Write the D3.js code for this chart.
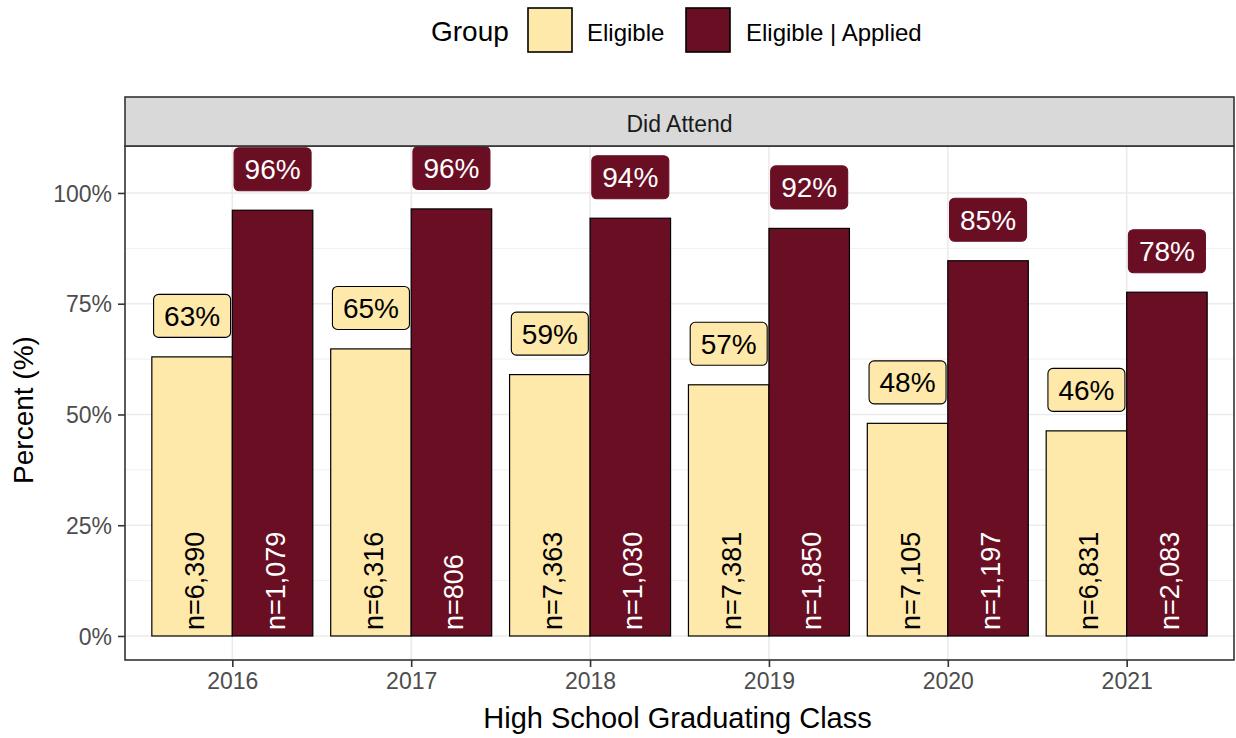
<!DOCTYPE html>
<html>
<head>
<meta charset="utf-8">
<script src="https://cdn.jsdelivr.net/npm/d3@7"></script>
<style>
  html, body { margin: 0; padding: 0; background: #ffffff; }
  svg { display: block; font-family: "Liberation Sans", Arial, sans-serif; }
</style>
</head>
<body>
<svg id="chart" width="1236" height="738"></svg>
<script>
// ---- data ----
const years = ["2016", "2017", "2018", "2019", "2020", "2021"];
const groups = ["Eligible", "Eligible | Applied"];
const eligiblePct = [63.0, 64.8, 59.0, 56.7, 48.0, 46.3];
const appliedPct = [96.1, 96.4, 94.3, 92.0, 84.7, 77.6];
const eligibleN = [6390, 6316, 7363, 7381, 7105, 6831];
const appliedN = [1079, 806, 1030, 1850, 1197, 2083];
const yTicks = [0, 25, 50, 75, 100];
const yMinorTicks = [12.5, 37.5, 62.5, 87.5];
const facetLabel = "Did Attend";
const legendTitle = "Group";
const xTitle = "High School Graduating Class";
const yTitle = "Percent (%)";

const fills = { "Eligible": "#FEE8AA", "Eligible | Applied": "#6A0E23" };
const textCols = { "Eligible": "#000000", "Eligible | Applied": "#FFFFFF" };

const rows = [];
years.forEach((yr, i) => {
  rows.push({ year: yr, group: groups[0], pct: eligiblePct[i], n: eligibleN[i] });
  rows.push({ year: yr, group: groups[1], pct: appliedPct[i], n: appliedN[i] });
});

// ---- layout ----
const panel = { left: 125, right: 1234, top: 146, bottom: 660 };
const strip = { top: 97, bottom: 146 };

const svg = d3.select("#chart");
const x = d3.scalePoint().domain(years).range([panel.left, panel.right]).padding(0.6);
const step = x.step();
const xs = d3.scaleBand().domain(groups).range([-0.45 * step, 0.45 * step]);
const y = d3.scaleLinear().domain([-5.42, 110.6]).range([panel.bottom, panel.top]);

// panel background
svg.append("rect").attr("x", panel.left).attr("y", panel.top)
  .attr("width", panel.right - panel.left).attr("height", panel.bottom - panel.top)
  .attr("fill", "#ffffff");

// grid
const grid = svg.append("g");
grid.selectAll(".minor").data(yMinorTicks).enter().append("line")
  .attr("x1", panel.left).attr("x2", panel.right)
  .attr("y1", d => y(d)).attr("y2", d => y(d))
  .attr("stroke", "#EBEBEB").attr("stroke-width", 0.8);
grid.selectAll(".major").data(yTicks).enter().append("line")
  .attr("x1", panel.left).attr("x2", panel.right)
  .attr("y1", d => y(d)).attr("y2", d => y(d))
  .attr("stroke", "#EBEBEB").attr("stroke-width", 1.6);
grid.selectAll(".vmajor").data(years).enter().append("line")
  .attr("x1", d => x(d)).attr("x2", d => x(d))
  .attr("y1", panel.top).attr("y2", panel.bottom)
  .attr("stroke", "#EBEBEB").attr("stroke-width", 1.6);

// bars
svg.append("g").selectAll("rect").data(rows).enter().append("rect")
  .attr("x", d => x(d.year) + xs(d.group))
  .attr("width", xs.bandwidth())
  .attr("y", d => y(d.pct))
  .attr("height", d => y(0) - y(d.pct))
  .attr("fill", d => fills[d.group])
  .attr("stroke", "#000").attr("stroke-width", 1.2);

// n labels (rotated)
svg.append("g").selectAll("text").data(rows).enter().append("text")
  .attr("transform", d => `translate(${x(d.year) + xs(d.group) + xs.bandwidth() / 2 + 12},${y(0) - 6}) rotate(-90)`)
  .attr("text-anchor", "start")
  .attr("font-size", 27)
  .attr("fill", d => textCols[d.group])
  .text(d => "n=" + d3.format(",")(d.n));

// percent labels
const lab = svg.append("g").selectAll("g").data(rows).enter().append("g")
  .attr("transform", d => `translate(${x(d.year) + xs(d.group) + xs.bandwidth() / 2},${y(d.pct + 9.25)})`);
lab.append("rect")
  .attr("x", -38.5).attr("y", -21.5).attr("width", 77).attr("height", 43)
  .attr("rx", 5).attr("ry", 5)
  .attr("fill", d => fills[d.group])
  .attr("stroke", d => d.group === groups[0] ? "#000" : fills[d.group]).attr("stroke-width", 1.1);
lab.append("text")
  .attr("text-anchor", "middle").attr("y", 10)
  .attr("font-size", 28)
  .attr("fill", d => textCols[d.group])
  .text(d => Math.round(d.pct) + "%");

// panel border
svg.append("rect").attr("x", panel.left).attr("y", panel.top)
  .attr("width", panel.right - panel.left).attr("height", panel.bottom - panel.top)
  .attr("fill", "none").attr("stroke", "#333333").attr("stroke-width", 1.6);

// strip
svg.append("rect").attr("x", panel.left).attr("y", strip.top)
  .attr("width", panel.right - panel.left).attr("height", strip.bottom - strip.top)
  .attr("fill", "#D9D9D9").attr("stroke", "#333333").attr("stroke-width", 1.6);
svg.append("text").attr("x", (panel.left + panel.right) / 2).attr("y", 132)
  .attr("text-anchor", "middle").attr("font-size", 23).attr("fill", "#1A1A1A")
  .text(facetLabel);

// axes
const yAxis = svg.append("g").attr("transform", `translate(${panel.left},0)`)
  .call(d3.axisLeft(y).tickValues(yTicks).tickFormat(d => d + "%").tickSize(7).tickPadding(6));
yAxis.select(".domain").remove();
yAxis.selectAll(".tick line").attr("stroke", "#333333").attr("stroke-width", 1.6);
yAxis.selectAll(".tick text").attr("font-size", 23).attr("fill", "#4D4D4D")
  .attr("font-family", "Liberation Sans, Arial, sans-serif").attr("dy", "0.36em");

const xAxis = svg.append("g").attr("transform", `translate(0,${panel.bottom})`)
  .call(d3.axisBottom(x).tickSize(7).tickPadding(6));
xAxis.select(".domain").remove();
xAxis.selectAll(".tick line").attr("stroke", "#333333").attr("stroke-width", 1.6);
xAxis.selectAll(".tick text").attr("font-size", 23).attr("fill", "#4D4D4D")
  .attr("font-family", "Liberation Sans, Arial, sans-serif");

// axis titles
svg.append("text").attr("x", (panel.left + panel.right) / 2 - 2).attr("y", 728)
  .attr("text-anchor", "middle").attr("font-size", 29).attr("fill", "#000")
  .text(xTitle);
svg.append("text").attr("transform", `translate(33,410) rotate(-90)`)
  .attr("text-anchor", "middle").attr("font-size", 28).attr("fill", "#000")
  .text(yTitle);

// legend
const legend = svg.append("g");
legend.append("text").attr("x", 431).attr("y", 41).attr("font-size", 28).attr("fill", "#000").text(legendTitle);
const keyX = [528, 686];
const labX = [587, 746];
groups.forEach((g, i) => {
  legend.append("rect").attr("x", keyX[i]).attr("y", 8).attr("width", 44).attr("height", 44)
    .attr("fill", fills[g]).attr("stroke", "#000").attr("stroke-width", 1.6);
  legend.append("text").attr("x", labX[i]).attr("y", 41).attr("font-size", 24).attr("fill", "#000").text(g);
});
</script>
</body>
</html>
